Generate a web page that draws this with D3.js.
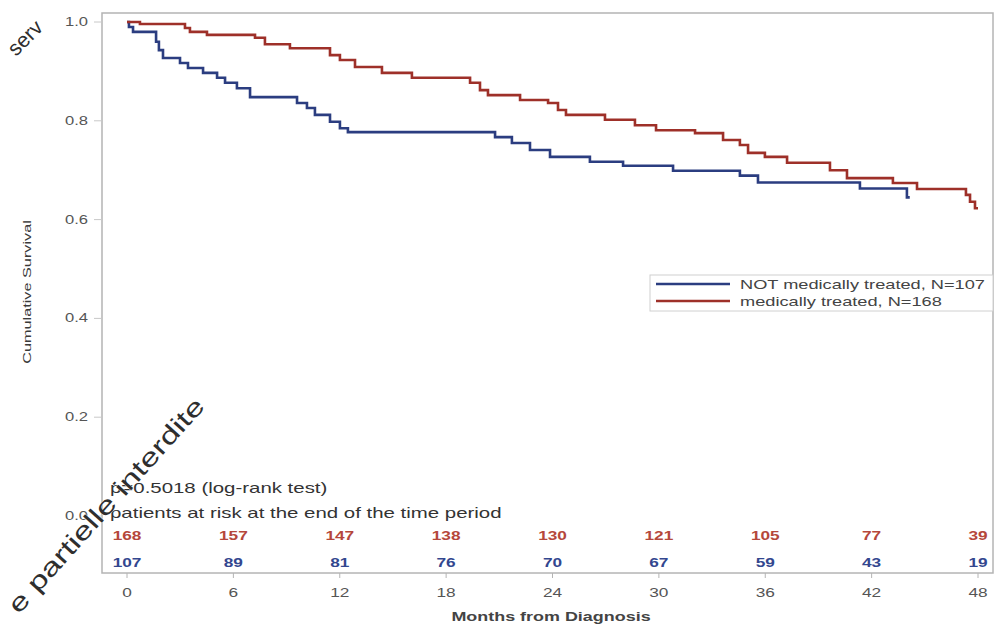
<!DOCTYPE html>
<html>
<head>
<meta charset="utf-8">
<script src="https://cdn.jsdelivr.net/npm/d3@7"></script>
<style>
  body { margin: 0; background: #fff; }
  svg { display: block; }
  text { font-family: "Liberation Sans", Arial, sans-serif; }
</style>
</head>
<body>
<svg id="chart" width="1003" height="625"></svg>
<script>
// Kaplan-Meier estimates (month of step, survival after step)
const notTreatedMonths = [0, 0.11, 0.34, 1.64, 1.80, 2.03, 2.99, 3.44, 4.29, 5.08,
  5.53, 6.20, 6.94, 9.59, 10.15, 10.60, 11.45, 12.01, 12.46, 20.76,
  21.71, 22.73, 23.86, 26.11, 27.98, 30.80, 34.57, 35.59, 41.34, 43.99, 44.15];
const notTreatedSurvival = [1.000, 0.990, 0.980, 0.960, 0.943, 0.927, 0.917, 0.907, 0.897, 0.887,
  0.877, 0.866, 0.848, 0.836, 0.826, 0.812, 0.798, 0.785, 0.777, 0.767,
  0.755, 0.741, 0.727, 0.717, 0.709, 0.699, 0.689, 0.675, 0.663, 0.645, 0.645];

const treatedMonths = [0, 0.73, 3.27, 3.55, 4.51, 7.22, 7.78, 9.19, 11.45, 12.01,
  12.86, 14.38, 16.07, 19.35, 19.91, 20.36, 22.17, 23.75, 24.31, 24.76,
  26.96, 28.65, 29.84, 32.04, 33.62, 34.57, 35.03, 35.98, 37.23, 39.65,
  40.61, 43.20, 44.56, 47.32, 47.55, 47.83, 48.0];
const treatedSurvival = [1.000, 0.996, 0.988, 0.980, 0.974, 0.968, 0.955, 0.947, 0.933, 0.923,
  0.909, 0.897, 0.887, 0.877, 0.862, 0.852, 0.842, 0.836, 0.822, 0.812,
  0.802, 0.791, 0.781, 0.775, 0.761, 0.751, 0.735, 0.727, 0.715, 0.700,
  0.684, 0.674, 0.662, 0.650, 0.636, 0.623, 0.623];

// Numbers at risk at each tick
const xTicks = [0, 6, 12, 18, 24, 30, 36, 42, 48];
const atRiskTreated = [168, 157, 147, 138, 130, 121, 105, 77, 39];
const atRiskNotTreated = [107, 89, 81, 76, 70, 67, 59, 43, 19];
const yTicks = [0.0, 0.2, 0.4, 0.6, 0.8, 1.0];

const legendLabels = ["NOT medically treated, N=107", "medically treated, N=168"];
const pValueText = "p=0.5018 (log-rank test)";
const atRiskTitle = "patients at risk at the end of the time period";

const BLUE = "#2b3d80";
const RED = "#9e3029";
const SX = 1.38; // horizontal text stretch

const svg = d3.select("#chart");
const frame = { left: 102, right: 993, top: 13, bottom: 573 };

const x = d3.scaleLinear().domain([0, 48]).range([127, 978]);
const y = d3.scaleLinear().domain([0, 1]).range([516, 22]);

function stretched(tx, ty, rot) {
  return `translate(${tx},${ty})` + (rot ? ` rotate(${rot})` : "") + ` scale(${SX},1)`;
}

// Plot frame
svg.append("rect")
  .attr("x", frame.left).attr("y", frame.top)
  .attr("width", frame.right - frame.left).attr("height", frame.bottom - frame.top)
  .attr("fill", "none").attr("stroke", "#b4b4b4").attr("stroke-width", 1.5);

// Y axis ticks and labels
const yAxis = svg.append("g");
yAxis.selectAll("line").data(yTicks).join("line")
  .attr("x1", frame.left - 8).attr("x2", frame.left)
  .attr("y1", d => y(d)).attr("y2", d => y(d))
  .attr("stroke", "#c8c8c8").attr("stroke-width", 1);
yAxis.selectAll("text").data(yTicks).join("text")
  .attr("transform", d => stretched(88, y(d) + 4))
  .attr("text-anchor", "end")
  .attr("font-size", 12)
  .attr("fill", "#555")
  .text(d => d3.format(".1f")(d));

// X axis ticks and labels
const xAxis = svg.append("g");
xAxis.selectAll("line").data(xTicks).join("line")
  .attr("x1", d => x(d)).attr("x2", d => x(d))
  .attr("y1", frame.bottom).attr("y2", frame.bottom + 5)
  .attr("stroke", "#b4b4b4").attr("stroke-width", 1);
xAxis.selectAll("text").data(xTicks).join("text")
  .attr("transform", d => stretched(x(d), 597))
  .attr("text-anchor", "middle")
  .attr("font-size", 12.5)
  .attr("fill", "#555")
  .text(d => d);

// Axis titles
svg.append("text")
  .attr("transform", stretched(551, 621))
  .attr("text-anchor", "middle")
  .attr("font-size", 13)
  .attr("font-weight", "bold")
  .attr("fill", "#444")
  .text("Months from Diagnosis");
svg.append("text")
  .attr("transform", stretched(31, 292, -90))
  .attr("text-anchor", "middle")
  .attr("font-size", 11.8)
  .attr("fill", "#3a3a3a")
  .text("Cumulative Survival");

// Survival curves
const line = d3.line()
  .x(d => x(d[0]))
  .y(d => y(d[1]))
  .curve(d3.curveStepAfter);

const series = [
  { months: notTreatedMonths, surv: notTreatedSurvival, color: BLUE },
  { months: treatedMonths, surv: treatedSurvival, color: RED }
];
svg.append("g").selectAll("path").data(series).join("path")
  .attr("d", s => line(d3.zip(s.months, s.surv)))
  .attr("fill", "none")
  .attr("stroke", s => s.color)
  .attr("stroke-width", 2.6)
  .attr("stroke-linejoin", "miter");

// Legend
const legend = svg.append("g");
legend.append("rect")
  .attr("x", 650).attr("y", 275).attr("width", frame.right - 650).attr("height", 36)
  .attr("fill", "#fff").attr("stroke", "#d0d0d0").attr("stroke-width", 1);
legendLabels.forEach((label, i) => {
  const ly = 284 + i * 17;
  legend.append("line")
    .attr("x1", 656).attr("x2", 730).attr("y1", ly).attr("y2", ly)
    .attr("stroke", i === 0 ? BLUE : RED).attr("stroke-width", 2.6);
  legend.append("text")
    .attr("transform", stretched(740, ly + 4.5))
    .attr("font-size", 13.2)
    .attr("fill", "#444")
    .text(label);
});

// Test result and numbers at risk
svg.append("text")
  .attr("transform", stretched(110, 493))
  .attr("font-size", 14.8).attr("fill", "#333")
  .text(pValueText);
svg.append("text")
  .attr("transform", stretched(110, 518))
  .attr("font-size", 14.8).attr("fill", "#333")
  .text(atRiskTitle);

svg.append("g").selectAll("text").data(d3.zip(xTicks, atRiskTreated)).join("text")
  .attr("transform", d => stretched(x(d[0]), 540))
  .attr("text-anchor", "middle")
  .attr("font-size", 12.5).attr("font-weight", "bold")
  .attr("fill", "#b5473b")
  .text(d => d[1]);
svg.append("g").selectAll("text").data(d3.zip(xTicks, atRiskNotTreated)).join("text")
  .attr("transform", d => stretched(x(d[0]), 567))
  .attr("text-anchor", "middle")
  .attr("font-size", 12.5).attr("font-weight", "bold")
  .attr("fill", "#33478f")
  .text(d => d[1]);

// Diagonal copyright marks
const marks = svg.append("g").attr("pointer-events", "none");
marks.append("text")
  .attr("transform", "translate(206,407) rotate(-48)")
  .attr("text-anchor", "end")
  .attr("font-size", 25)
  .attr("textLength", 280).attr("lengthAdjust", "spacingAndGlyphs")
  .attr("fill", "#2e2e2e").attr("stroke", "#fff").attr("stroke-width", 0.6)
  .attr("paint-order", "stroke")
  .text("e partielle interdite");
marks.append("text")
  .attr("transform", "translate(16,57) rotate(-45)")
  .attr("font-size", 21)
  .attr("fill", "#2e2e2e")
  .text("serv");
</script>
</body>
</html>
